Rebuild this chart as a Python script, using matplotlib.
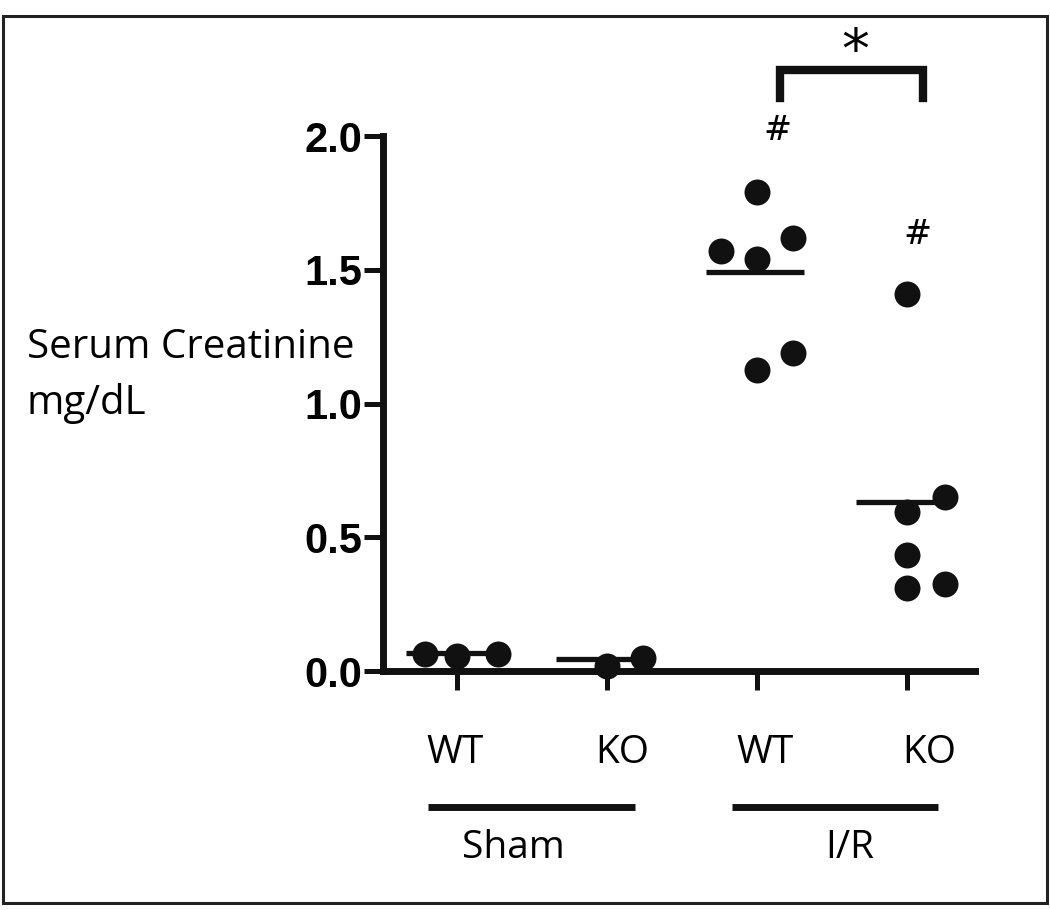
### serum creatinine dot plot, sham vs I/R

import matplotlib
matplotlib.use("Agg")
import matplotlib.pyplot as plt
from matplotlib.patches import Rectangle

# group positions on the x axis: Sham WT, Sham KO, I/R WT, I/R KO
positions = [0, 1, 2, 3]
genotypes = ["WT", "KO", "WT", "KO"]
conditions = ["Sham", "I/R"]

# individual animals (mg/dL) and x jitter inside each group
sham_wt = [0.065, 0.058, 0.062]
sham_wt_dx = [-0.21, 0.0, 0.27]
sham_ko = [0.02, 0.05]
sham_ko_dx = [0.0, 0.24]
ir_wt = [1.79, 1.57, 1.54, 1.62, 1.19, 1.125]
ir_wt_dx = [0.0, -0.24, 0.0, 0.24, 0.24, 0.0]
ir_ko = [1.41, 0.65, 0.594, 0.434, 0.31, 0.325]
ir_ko_dx = [0.0, 0.25, 0.0, 0.0, 0.0, 0.25]

# mean lines as drawn
means = [0.067, 0.045, 1.49, 0.632]

groups = [(sham_wt, sham_wt_dx), (sham_ko, sham_ko_dx),
          (ir_wt, ir_wt_dx), (ir_ko, ir_ko_dx)]


def main():
    fig = plt.figure(figsize=(10.5, 9.1), dpi=100)
    ax = fig.add_axes([0.3648, 0.2626, 0.5638, 0.5879])

    for pos, (vals, dx) in zip(positions, groups):
        xs = [pos + d for d in dx]
        ax.scatter(xs, vals, s=350, color="#111111", zorder=5, clip_on=False,
                   linewidths=0)

    for pos, m in zip(positions, means):
        ax.hlines(m, pos - 0.34, pos + 0.31, color="#111111", lw=3.8, zorder=4)

    ax.set_xlim(-0.493, 3.453)
    ax.set_ylim(0, 2.0)
    ax.set_yticks([0.0, 0.5, 1.0, 1.5, 2.0])
    ax.set_yticklabels(["0.0", "0.5", "1.0", "1.5", "2.0"],
                       fontfamily="Liberation Sans", fontweight="bold",
                       fontsize=30)
    ax.set_xticks(positions)
    ax.set_xticklabels([])

    for side in ["top", "right"]:
        ax.spines[side].set_visible(False)
    for side in ["left", "bottom"]:
        ax.spines[side].set_linewidth(5)
        ax.spines[side].set_color("#111111")
    ax.tick_params(axis="both", length=14, width=3.6, color="#111111", pad=1)

    # genotype labels
    label_dx = [-0.01, 0.1, 0.05, 0.15]
    for pos, g, d in zip(positions, genotypes, label_dx):
        ax.text(pos + d, -0.307, g, ha="center", va="center", fontsize=28,
                fontfamily="Open Sans", clip_on=False)

    # condition bars
    ax.plot([-0.193, 1.187], [-0.508, -0.508], color="#111111", lw=5,
            clip_on=False, solid_capstyle="butt")
    ax.plot([1.833, 3.207], [-0.508, -0.508], color="#111111", lw=5,
            clip_on=False, solid_capstyle="butt")
    ax.text(0.373, -0.662, conditions[0], ha="center", va="center",
            fontsize=28, fontfamily="Open Sans", clip_on=False)
    ax.text(2.62, -0.662, conditions[1], ha="center", va="center",
            fontsize=28, fontfamily="Open Sans", clip_on=False)

    # significance marks
    ax.plot([2.153, 2.153, 3.107, 3.107], [2.142, 2.247, 2.247, 2.142],
            color="#111111", lw=6, clip_on=False, solid_joinstyle="miter")
    ax.text(2.653, 2.31, "*", ha="center", va="center", fontsize=40,
            clip_on=False)
    ax.text(2.133, 2.02, "#", ha="center", va="center", fontsize=24,
            fontfamily="DejaVu Serif", clip_on=False)
    ax.text(3.067, 1.63, "#", ha="center", va="center", fontsize=24,
            fontfamily="DejaVu Serif", clip_on=False)

    # y axis title
    fig.text(27 / 1050, 1 - 348 / 910, "Serum Creatinine", ha="left",
             va="center", fontsize=29, fontfamily="Open Sans")
    fig.text(27 / 1050, 1 - 403 / 910, "mg/dL", ha="left",
             va="center", fontsize=29, fontfamily="Open Sans")

    fig.patches.append(Rectangle((0.0029, 0.0077), 0.994, 0.9747,
                                 transform=fig.transFigure, fill=False,
                                 lw=2.2, edgecolor="#222222"))

    fig.savefig("out.png", dpi=100)


if __name__ == "__main__":
    main()
